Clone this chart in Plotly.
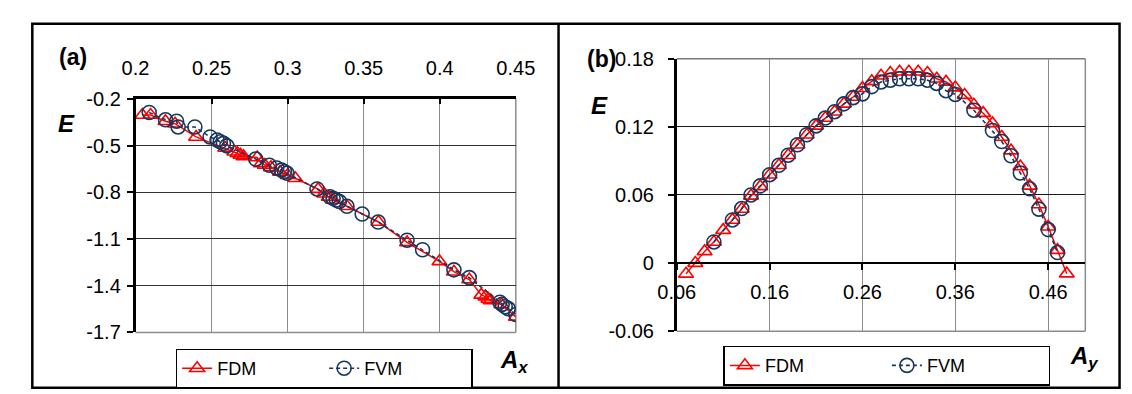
import plotly.graph_objects as go

# ---------------- data ----------------
# Panel (a): E vs A_x
fdm_a_x = [0.2045, 0.2099, 0.2197, 0.226, 0.2398, 0.259, 0.265, 0.267, 0.269, 0.271,
           0.28, 0.2825, 0.285, 0.289, 0.295, 0.30, 0.305, 0.32, 0.324, 0.327, 0.33,
           0.339, 0.3597, 0.3785, 0.3998, 0.4093, 0.4194, 0.4273, 0.43, 0.432, 0.4335,
           0.4405, 0.45]
fdm_a_e = [-0.304, -0.304, -0.344, -0.36, -0.445, -0.516, -0.54, -0.55, -0.56, -0.57,
           -0.577, -0.615, -0.625, -0.64, -0.67, -0.69, -0.71, -0.78, -0.81, -0.83, -0.85,
           -0.89, -0.991, -1.122, -1.244, -1.31, -1.36, -1.459, -1.47, -1.485, -1.495,
           -1.52, -1.60]
fvm_a_x = [0.209, 0.2197, 0.227, 0.228, 0.239, 0.249, 0.2536, 0.2557, 0.2578, 0.26,
           0.279, 0.288, 0.2928, 0.296, 0.298, 0.2996, 0.3193, 0.3278, 0.3299, 0.332,
           0.334, 0.339, 0.349, 0.3595, 0.3785, 0.3887, 0.4093, 0.4194, 0.4395, 0.441,
           0.443, 0.445, 0.45]
fvm_a_e = [-0.288, -0.335, -0.344, -0.381, -0.381, -0.445, -0.465, -0.476, -0.486, -0.502,
           -0.587, -0.627, -0.644, -0.658, -0.668, -0.678, -0.779, -0.829, -0.839, -0.85,
           -0.859, -0.89, -0.94, -0.991, -1.108, -1.169, -1.298, -1.348, -1.506, -1.52,
           -1.535, -1.547, -1.585]

# Panel (b): E vs A_y
fdm_b_x = [0.07, 0.08, 0.09, 0.10, 0.11, 0.12, 0.13, 0.14, 0.15, 0.16, 0.17, 0.18, 0.19,
           0.20, 0.21, 0.22, 0.23, 0.24, 0.25, 0.26, 0.27, 0.28, 0.29, 0.30, 0.31, 0.32,
           0.33, 0.34, 0.35, 0.36, 0.37, 0.38, 0.39, 0.40, 0.41, 0.42, 0.43, 0.44, 0.45,
           0.46, 0.47, 0.48]
fdm_b_e = [-0.0095, 0.0, 0.0103, 0.0186, 0.029, 0.038, 0.0476, 0.0592, 0.0675, 0.0778,
           0.0861, 0.095, 0.1042, 0.113, 0.1208, 0.1277, 0.1333, 0.1402, 0.1462, 0.154,
           0.160, 0.165, 0.1673, 0.1684, 0.1684, 0.1684, 0.1673, 0.1623, 0.1595, 0.1545,
           0.1479, 0.1393, 0.132, 0.123, 0.111, 0.099, 0.085, 0.068, 0.0516, 0.032,
           0.0114, -0.0093]
fvm_b_x = [0.10, 0.12, 0.13, 0.14, 0.15, 0.16, 0.17, 0.18, 0.19, 0.20, 0.21, 0.22, 0.23,
           0.24, 0.25, 0.26, 0.27, 0.28, 0.29, 0.30, 0.31, 0.32, 0.33, 0.34, 0.35, 0.36,
           0.38, 0.40, 0.41, 0.42, 0.43, 0.44, 0.45, 0.46, 0.47]
fvm_b_e = [0.0186, 0.038, 0.048, 0.060, 0.068, 0.0778, 0.0861, 0.095, 0.1042, 0.113,
           0.1208, 0.1277, 0.1333, 0.1402, 0.1457, 0.149, 0.1554, 0.1595, 0.161, 0.1623,
           0.1623, 0.1623, 0.161, 0.1582, 0.1518, 0.1485, 0.1346, 0.1167, 0.107, 0.0945,
           0.0793, 0.0655, 0.0475, 0.0295, 0.0093]

# tick labels
a_xticks = [0.2, 0.25, 0.3, 0.35, 0.4, 0.45]
a_xticktext = ["0.2", "0.25", "0.3", "0.35", "0.4", "0.45"]
a_yticks = [-0.2, -0.5, -0.8, -1.1, -1.4, -1.7]
a_yticktext = ["-0.2", "-0.5", "-0.8", "-1.1", "-1.4", "-1.7"]
b_xticks = [0.06, 0.16, 0.26, 0.36, 0.46]
b_xticktext = ["0.06", "0.16", "0.26", "0.36", "0.46"]
b_yticks = [-0.06, 0.0, 0.06, 0.12, 0.18]
b_yticktext = ["-0.06", "0", "0.06", "0.12", "0.18"]

# ---------------- styling ----------------
W, H = 1132, 394
FONT = "Liberation Sans, Arial, sans-serif"
RED = "#FF0000"
BLUE = "#17375E"
GRID_H = "#333333"
GRID_V = "#8C8C8C"


def px(x):
    return x / W


def py(y):
    return 1 - y / H


a_dom_x = [px(112.3), px(505.8)]
a_dom_y = [py(332.0), py(84.5)]
b_dom_x = [px(672.3), px(1095.1)]
b_dom_y = [py(330.7), py(42.0)]
b_yrange = [-0.06, 0.18]
b_xpos = b_dom_y[0] + (0 - b_yrange[0]) / (b_yrange[1] - b_yrange[0]) * (b_dom_y[1] - b_dom_y[0])

fig = go.Figure()


def add_pair(xf, yf, xv, yv, xa, ya, leg):
    fig.add_trace(go.Scatter(
        x=xf, y=yf, name="FDM", mode="lines+markers", xaxis=xa, yaxis=ya, legend=leg,
        line=dict(color=RED, width=1.5),
        marker=dict(symbol="triangle-up-open", size=13, color=RED,
                    line=dict(width=1.6, color=RED))))
    fig.add_trace(go.Scatter(
        x=xv, y=yv, name="FVM", mode="lines+markers", xaxis=xa, yaxis=ya, legend=leg,
        line=dict(color=BLUE, width=1.6, dash="4px,3px"),
        marker=dict(symbol="circle-open", size=14, color=BLUE,
                    line=dict(width=1.6, color=BLUE))))


add_pair(fdm_a_x, fdm_a_e, fvm_a_x, fvm_a_e, "x", "y", "legend")
add_pair(fdm_b_x, fdm_b_e, fvm_b_x, fvm_b_e, "x2", "y2", "legend2")

tickfont = dict(family=FONT, size=20, color="black")
legfont = dict(family=FONT, size=18, color="black")

fig.update_layout(
    width=W, height=H, margin=dict(l=0, r=0, t=0, b=0),
    paper_bgcolor="white", plot_bgcolor="white",
    font=dict(family=FONT, size=20, color="black"),
    xaxis=dict(domain=a_dom_x, range=[0.2, 0.45], side="top", anchor="y",
               tickvals=a_xticks, ticktext=a_xticktext, tickfont=tickfont,
               showgrid=True, gridcolor=GRID_V, gridwidth=1.2,
               showline=True, linecolor="black", linewidth=2.5,
               ticks="inside", ticklen=5, tickcolor="black", tickwidth=2,
               zeroline=False, ticklabelstandoff=13),
    yaxis=dict(domain=a_dom_y, range=[-1.7, -0.2], anchor="x",
               tickvals=a_yticks, ticktext=a_yticktext, tickfont=tickfont,
               showgrid=True, gridcolor=GRID_H, gridwidth=1.3,
               showline=True, linecolor="black", linewidth=2.5,
               ticks="outside", ticklen=6, tickcolor="black", tickwidth=1.5,
               zeroline=False, ticklabelstandoff=2),
    xaxis2=dict(domain=b_dom_x, range=[0.06, 0.50], anchor="free", position=b_xpos,
                tickvals=b_xticks, ticktext=b_xticktext, tickfont=tickfont,
                showgrid=True, gridcolor=GRID_V, gridwidth=1.2,
                showline=True, linecolor="black", linewidth=2,
                ticks="outside", ticklen=6, tickcolor="black", tickwidth=2,
                zeroline=False, ticklabelstandoff=5),
    yaxis2=dict(domain=b_dom_y, range=b_yrange, anchor="x2",
                tickvals=b_yticks, ticktext=b_yticktext, tickfont=tickfont,
                showgrid=True, gridcolor="#1a1a1a", gridwidth=1.3,
                showline=True, linecolor="black", linewidth=2.5,
                ticks="outside", ticklen=6, tickcolor="black", tickwidth=1.5,
                zeroline=False, ticklabelstandoff=10),
    legend=dict(orientation="h", x=px(153.8), y=py(349.0), xanchor="left", yanchor="top",
                bordercolor="black", borderwidth=1.5, bgcolor="white", font=legfont,
                entrywidth=102, entrywidthmode="pixels"),
    legend2=dict(orientation="h", x=px(720.6), y=py(346.0), xanchor="left", yanchor="top",
                 bordercolor="black", borderwidth=1.5, bgcolor="white", font=legfont,
                 entrywidth=117, entrywidthmode="pixels"),
)

shapes = []
# plot-area borders (grey) drawn above the grid
for xr, yr in (("x domain", "y domain"), ("x2 domain", "y2 domain")):
    shapes.append(dict(type="line", xref=xr, yref=yr, x0=1, x1=1, y0=0, y1=1,
                       line=dict(color=GRID_V, width=1.5), layer="below"))
    shapes.append(dict(type="line", xref=xr, yref=yr, x0=0, x1=1, y0=0, y1=0,
                       line=dict(color=GRID_V, width=1.5), layer="below"))
shapes.append(dict(type="line", xref="x2 domain", yref="y2 domain", x0=0, x1=1, y0=1, y1=1,
                   line=dict(color="#7a7a7a", width=1.5), layer="below"))
# outer frame and divider
shapes.append(dict(type="rect", xref="paper", yref="paper", x0=px(5.5), x1=px(1130.5),
                   y0=py(390.5), y1=py(5), line=dict(color="black", width=2.5)))
shapes.append(dict(type="line", xref="paper", yref="paper", x0=px(550), x1=px(550),
                   y0=py(390.5), y1=py(5), line=dict(color="black", width=2.5)))
fig.update_layout(shapes=shapes)

ann = []


def label(text, x, y, size, xanchor="center"):
    ann.append(dict(text=text, x=px(x), y=py(y), xref="paper", yref="paper",
                    showarrow=False, xanchor=xanchor, yanchor="middle",
                    font=dict(family=FONT, size=size, color="black")))


label("<b>(a)</b>", 48, 40, 23)
label("<b><i>E</i></b>", 41, 111, 24)
label("<b>(b)</b>", 594, 42, 23)
label("<b><i>E</i></b>", 592, 92, 24)
label("<b><i>A</i></b><sub><b><i>x</i></b></sub>", 487, 363, 24, "left")
label("<b><i>A</i></b><sub><b><i>y</i></b></sub>", 1077, 358, 24, "left")
fig.update_layout(annotations=ann)

fig.write_html("out.html")
